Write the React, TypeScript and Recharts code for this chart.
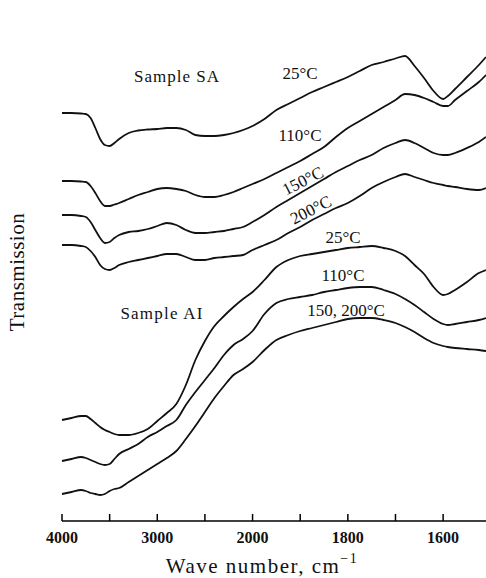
import React from "react";
import { LineChart, Line, XAxis, YAxis } from "recharts";

// wave numbers (cm-1) sampled along every spectrum
const waveNumbers = [
  4000, 3900, 3800, 3750, 3700, 3650, 3600, 3550, 3500, 3450, 3400,
  3300, 3200, 3100, 3000, 2900, 2800, 2700, 2600, 2500, 2400, 2300, 2200, 2100, 2000,
  1975, 1950, 1925, 1900, 1875, 1850, 1825, 1800, 1775, 1750, 1725, 1700,
  1680, 1660, 1640, 1620, 1600, 1590, 1575, 1550, 1525, 1510,
];

// transmission, arbitrary offset units (curves stacked)
const sa25 = [
  408, 408, 407.5, 407, 403, 393, 382, 376, 375, 378, 382,
  388, 390.5, 391.5, 392, 393, 393, 391, 386, 385, 385, 386, 388, 391, 395,
  402, 411, 417, 423, 429, 434, 439, 444, 450, 456, 459, 462.5,
  465, 455, 443, 430, 422, 425, 432, 444, 456, 464,
];
const sa110 = [
  340, 340, 339.5, 339, 335, 328, 320, 315, 315, 316.5, 318,
  322, 326, 329, 332, 333, 332, 330, 326, 324, 324, 326, 329, 333, 337,
  342, 348, 354, 360, 367, 374, 384, 393, 400, 407, 414, 421,
  427, 426, 423, 419, 415, 415, 421, 430, 439, 446,
];
const sa150 = [
  306, 306, 305, 304, 299, 291, 283, 278, 279, 283, 286,
  289, 290, 292, 295, 298, 296, 291, 288, 288, 289, 290, 292, 294, 299,
  306, 314, 321, 328, 335, 342, 349, 355, 361, 366, 373, 378,
  381, 378, 373, 368, 366, 366, 368, 373, 379, 384,
];
const sa200 = [
  276, 276, 275, 274, 270, 264, 256, 252, 251, 253, 256,
  259, 261, 263, 265, 267, 267, 264, 261, 261, 263, 264, 265, 266, 271,
  276, 281, 288, 294, 301, 307, 313, 318, 325, 333, 339, 344,
  347, 344, 341, 338, 336, 335, 334, 332, 331, 333,
];
const ai25 = [
  101, 103, 105, 105, 102, 98, 94, 91, 89, 87, 86,
  86, 88, 92, 100, 108, 117, 136, 161, 180, 195, 205, 214, 222, 229,
  241, 254, 261, 265, 267, 269, 271, 273, 274, 275, 273, 270,
  265, 256, 247, 234, 226, 227, 231, 239, 248, 251,
];
const ai110 = [
  60, 62, 64, 63, 61, 59, 57, 56, 57, 62, 67,
  72, 77, 84, 89, 95, 101, 116, 129, 141, 153, 166, 176, 182, 190,
  207, 218, 222, 224, 226, 229, 231, 233, 234, 234, 231, 227,
  222, 216, 209, 202, 197, 196, 197, 199, 201, 203,
];
const ai150 = [
  27, 29, 31, 30, 28, 27, 26, 27, 30, 32, 33,
  39, 45, 51, 57, 63, 70, 82, 95, 109, 123, 135, 146, 152, 159,
  171, 181, 186, 190, 193, 196, 199, 202, 203, 203, 201, 198,
  194, 189, 183, 178, 175, 174, 173, 172, 171, 170,
];

const tickWaves = [4000, 3500, 3000, 2500, 2000, 1900, 1800, 1700, 1600];
const labelWaves = [4000, 3000, 2000, 1800, 1600];
const lastWave = 1510;

// scale changes at 2000: 500 cm-1 per division above, 100 below
const toPos = (w: number) => (w >= 2000 ? (4000 - w) / 500 : 4 + (2000 - w) / 100);
const toWave = (p: number) => (p <= 4 ? 4000 - p * 500 : 2000 - (p - 4) * 100);

const data = waveNumbers.map((w, i) => ({
  pos: toPos(w),
  sa25: sa25[i],
  sa110: sa110[i],
  sa150: sa150[i],
  sa200: sa200[i],
  ai25: ai25[i],
  ai110: ai110[i],
  ai150: ai150[i],
}));

const seriesKeys = ["sa25", "sa110", "sa150", "sa200", "ai25", "ai110", "ai150"];

const serif = '"Liberation Serif", "Times New Roman", serif';

const BottomTick = (props: any) => {
  const { x, y, payload } = props;
  const w = Math.round(toWave(payload.value));
  return (
    <g>
      <line x1={x} x2={x} y1={y} y2={y - 7} stroke="#000" strokeWidth={1.5} />
      {labelWaves.includes(w) && (
        <text x={x} y={y + 16} textAnchor="middle" dominantBaseline="central"
          fontFamily={serif} fontSize={16} fontWeight={600} fill="#111">
          {w}
        </text>
      )}
    </g>
  );
};

const TopTick = (props: any) => {
  const { x, y } = props;
  return <line x1={x} x2={x} y1={y} y2={y + 7} stroke="#000" strokeWidth={1.5} />;
};

const note = { fontFamily: serif, fontSize: 17, fill: "#111", textAnchor: "middle" as const, dominantBaseline: "central" as const };

const App: React.FC = () => {
  return (
    <div style={{ position: "absolute", left: 0, top: 0, background: "#fff" }}>
      <LineChart width={486} height={578} data={data} margin={{ top: 13, right: 0, bottom: 0, left: 62 }}>
        <XAxis
          xAxisId="bottom"
          dataKey="pos"
          type="number"
          domain={[0, toPos(lastWave)]}
          ticks={tickWaves.map(toPos)}
          interval={0}
          height={57}
          tickSize={0}
          tickMargin={0}
          tickLine={false}
          tick={<BottomTick />}
          axisLine={{ stroke: "#000", strokeWidth: 1.5 }}
        />
        <XAxis
          xAxisId="top"
          orientation="top"
          dataKey="pos"
          type="number"
          domain={[0, toPos(lastWave)]}
          ticks={tickWaves.map(toPos)}
          interval={0}
          height={0}
          tickSize={0}
          tickMargin={0}
          tickLine={false}
          tick={<TopTick />}
          axisLine={{ stroke: "#000", strokeWidth: 1.5 }}
        />
        <YAxis
          type="number"
          domain={[0, 508]}
          width={0}
          tick={false}
          tickLine={false}
          axisLine={{ stroke: "#000", strokeWidth: 1.5 }}
        />
        {seriesKeys.map((k) => (
          <Line
            key={k}
            xAxisId="bottom"
            dataKey={k}
            type="monotone"
            stroke="#111"
            strokeWidth={1.8}
            dot={false}
            isAnimationActive={false}
          />
        ))}
        <text x={177} y={76} {...note} letterSpacing={1}>Sample SA</text>
        <text x={300} y={73} {...note}>25°C</text>
        <text x={300} y={135} {...note}>110°C</text>
        <text x={303} y={181} {...note} transform="rotate(-27 303 181)">150°C</text>
        <text x={311} y={210} {...note} transform="rotate(-27 311 210)">200°C</text>
        <text x={162} y={313} {...note} letterSpacing={1.2}>Sample AI</text>
        <text x={343} y={237} {...note}>25°C</text>
        <text x={343} y={275} {...note}>110°C</text>
        <text x={346} y={310} {...note}>150, 200°C</text>
        <text x={17} y={272} fontFamily={serif} fontSize={21} fill="#111" textAnchor="middle"
          dominantBaseline="central" letterSpacing={0.5} transform="rotate(-90 17 272)">
          Transmission
        </text>
        <text x={262} y={566} fontFamily={serif} fontSize={21} fill="#111" textAnchor="middle"
          dominantBaseline="central" letterSpacing={1.5}>
          Wave number, cm<tspan dy={-8} fontSize={14}>−1</tspan>
        </text>
      </LineChart>
    </div>
  );
};

export default App;
